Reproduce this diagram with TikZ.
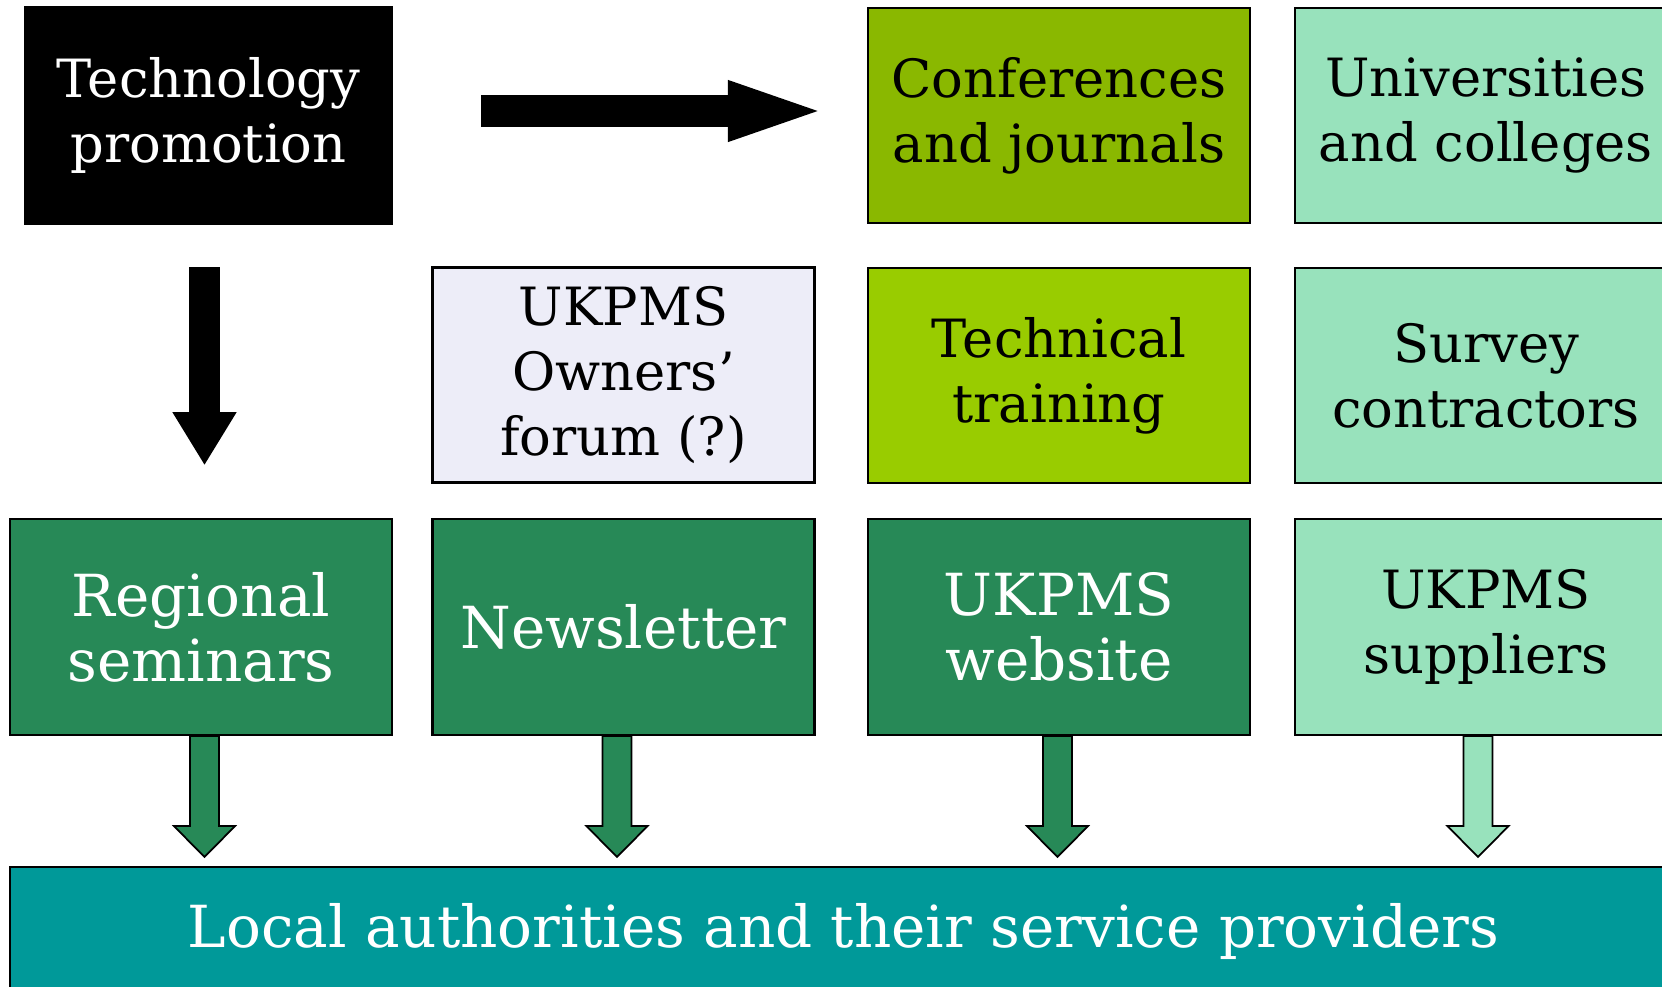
\documentclass[tikz,border=0pt]{standalone}
\usepackage{fontspec}
\setmainfont{DejaVu Serif}
\usetikzlibrary{calc}

\definecolor{confgreen}{HTML}{8AB800}
\definecolor{traingreen}{HTML}{99CC00}
\definecolor{palegreen}{HTML}{98E2BC}
\definecolor{darkgreen}{HTML}{278957}
\definecolor{forumgrey}{HTML}{EDEDF8}
\definecolor{tealbox}{HTML}{009999}

\tikzset{
  box/.style={draw=black, line width=0.6pt, minimum width=38.2mm, minimum height=21.5mm,
    inner sep=0pt, align=center, font=\fontsize{15}{18.5}\selectfont},
  bigtext/.style={font=\fontsize{16.5}{18.5}\selectfont},
  blockline/.style={draw=black, line width=0.5pt, line join=miter},
}

% block arrow pointing down: start, tip, head length, fill
\newcommand{\blockdown}[4]{%
  \draw[blockline, fill=#4] let \p1=#1, \p2=#2 in
    (\x1-4.1pt,\y1) -- (\x1-4.1pt,\y2+#3) -- (\x1-8.7pt,\y2+#3) -- (\x1,\y2)
    -- (\x1+8.7pt,\y2+#3) -- (\x1+4.1pt,\y2+#3) -- (\x1+4.1pt,\y1) -- cycle;}
% block arrow pointing right: start, tip, head length, fill
\newcommand{\blockright}[4]{%
  \draw[blockline, fill=#4] let \p1=#1, \p2=#2 in
    (\x1,\y1+4.3pt) -- (\x2-#3,\y1+4.3pt) -- (\x2-#3,\y1+8.5pt) -- (\x2,\y1)
    -- (\x2-#3,\y1-8.5pt) -- (\x2-#3,\y1-4.3pt) -- (\x1,\y1-4.3pt) -- cycle;}

\begin{document}
\begin{tikzpicture}[x=0.1mm,y=-0.1mm]
  \useasboundingbox (0,0) rectangle (1662,986);
  \clip (0,0) rectangle (1662,986);

  % top row
  \node[box, fill=black, text=white, minimum width=36.7mm, minimum height=21.7mm] (tech) at (208.5,115.5) {Technology\\promotion};
  \node[box, fill=confgreen] (conf) at (1059,115.5) {Conferences\\and journals};
  \node[box, fill=palegreen] (univ) at (1486,115.5) {Universities\\and colleges};

  % middle row
  \node[box, fill=forumgrey] (forum) at (623.5,375) {UKPMS\\Owners’\\forum (?)};
  \node[box, fill=traingreen] (train) at (1059,375.5) {Technical\\training};
  \node[box, fill=palegreen] (survey) at (1486,375.5) {Survey\\contractors};

  % bottom row
  \node[box, bigtext, fill=darkgreen, text=white, minimum height=21.6mm] (reg) at (201,627) {Regional\\seminars};
  \node[box, bigtext, fill=darkgreen, text=white, minimum height=21.6mm] (news) at (623.5,627) {Newsletter};
  \node[box, bigtext, fill=darkgreen, text=white, minimum height=21.6mm] (web) at (1059,627) {UKPMS\\website};
  \node[box, fill=palegreen, minimum height=21.6mm] (supp) at (1486,627) {UKPMS\\suppliers};

  \node[box, bigtext, fill=tealbox, text=white, minimum width=166.7mm, minimum height=12.8mm] (local) at (843.5,931) {Local authorities and their service providers};

  % arrows
  \blockright{($(tech.east)+(89,-4.5)$)}{($(conf.west)+(-52,0)$)}{24.5pt}{black}
  \blockdown{($(tech.south)+(-4,43)$)}{($(tech.south |- reg.north)+(-4,-55)$)}{14.2pt}{black}
  \blockdown{($(reg.south)+(3.5,0)$)}{($(reg.south |- local.north)+(3.5,-9)$)}{8.8pt}{darkgreen}
  \blockdown{($(news.south)+(-6.5,0)$)}{($(news.south |- local.north)+(-6.5,-9)$)}{8.8pt}{darkgreen}
  \blockdown{($(web.south)+(-1.5,0)$)}{($(web.south |- local.north)+(-1.5,-9)$)}{8.8pt}{darkgreen}
  \blockdown{($(supp.south)+(-8,0)$)}{($(supp.south |- local.north)+(-8,-9)$)}{8.8pt}{palegreen}
\end{tikzpicture}
\end{document}
